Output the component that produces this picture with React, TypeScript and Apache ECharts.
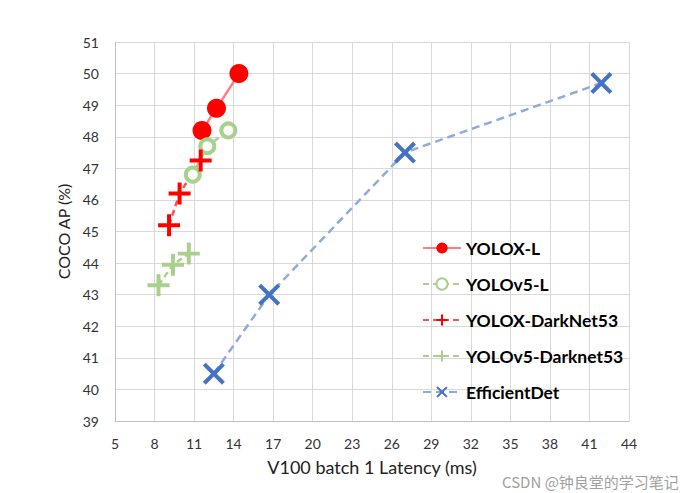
import React, { useEffect, useRef } from "react";
import * as echarts from "echarts";

const seriesNames = ["YOLOX-L", "YOLOv5-L", "YOLOX-DarkNet53", "YOLOv5-Darknet53", "EfficientDet"];
const yoloxL = [[11.6, 48.2], [12.7, 48.9], [14.4, 50.0]];
const yolov5L = [[10.9, 46.8], [12.0, 47.7], [13.6, 48.2]];
const yoloxDark = [[9.1, 45.2], [9.9, 46.2], [11.5, 47.25]];
const yolov5Dark = [[8.3, 43.3], [9.4, 43.95], [10.6, 44.3]];
const effDet = [[12.5, 40.5], [16.7, 43.0], [27.0, 47.5], [41.9, 49.7]];
const xRange = [5, 44, 3];
const yRange = [39, 51, 1];
const xTitle = "V100 batch 1 Latency (ms)";
const yTitle = "COCO AP (%)";
const watermark = "CSDN @钟良堂的学习笔记";

const PLUS = "path://M4.1,0 L5.9,0 L5.9,4.1 L10,4.1 L10,5.9 L5.9,5.9 L5.9,10 L4.1,10 L4.1,5.9 L0,5.9 L0,4.1 L4.1,4.1 Z";
const d = 1.3;
const CROSS = `path://M0,${d} L${d},0 L5,${5 - d} L${10 - d},0 L10,${d} L${5 + d},5 L10,${10 - d} L${10 - d},10 L5,${5 + d} L${d},10 L0,${10 - d} L${5 - d},5 Z`;

export default function App() {
  const ref = useRef<HTMLDivElement>(null);
  useEffect(() => {
    const chart = echarts.init(ref.current!, null, { renderer: "svg" });
    const font = "Lato, 'Open Sans', sans-serif";
    chart.setOption({
      animation: false,
      backgroundColor: "#ffffff",
      grid: { left: 115, right: 63, top: 42, bottom: 72 },
      xAxis: {
        type: "value",
        min: xRange[0], max: xRange[1], interval: xRange[2],
        name: xTitle, nameLocation: "middle", nameGap: 37,
        nameTextStyle: { fontFamily: font, fontSize: 18, color: "#222" },
        axisLine: { show: true, lineStyle: { color: "#bfbfbf", width: 1 } },
        axisTick: { show: false },
        axisLabel: { fontFamily: font, fontSize: 14, color: "#333", margin: 15 },
        splitLine: { show: true, lineStyle: { color: "#d9d9d9", width: 1 } },
      },
      yAxis: {
        type: "value",
        min: yRange[0], max: yRange[1], interval: yRange[2],
        name: yTitle, nameLocation: "middle", nameGap: 40, nameRotate: 90,
        nameTextStyle: { fontFamily: font, fontSize: 16, color: "#222" },
        axisLine: { show: true, lineStyle: { color: "#bfbfbf", width: 1 } },
        axisTick: { show: false },
        axisLabel: { fontFamily: font, fontSize: 14, color: "#333", margin: 16 },
        splitLine: { show: true, lineStyle: { color: "#d9d9d9", width: 1 } },
      },
      legend: {
        orient: "vertical",
        left: 417,
        top: 234,
        itemWidth: 38,
        itemHeight: 14,
        itemGap: 18,
        data: seriesNames,
        textStyle: { fontFamily: font, fontSize: 17.5, fontWeight: "bold", color: "#000", lineHeight: 18 },
      },
      series: [
        {
          name: seriesNames[0], type: "line", data: yoloxL,
          symbol: "circle", symbolSize: 19,
          itemStyle: { color: "#ff0000" },
          lineStyle: { color: "#ff7c80", width: 2.5, type: "solid" },
        },
        {
          name: seriesNames[1], type: "line", data: yolov5L,
          symbol: "circle", symbolSize: 14,
          itemStyle: { color: "#ffffff", borderColor: "#a9d18e", borderWidth: 4 },
          lineStyle: { color: "#a9d18e", width: 2.5, type: [6, 4] },
        },
        {
          name: seriesNames[2], type: "line", data: yoloxDark,
          symbol: PLUS, symbolSize: 22,
          itemStyle: { color: "#ff0000" },
          lineStyle: { color: "#ff5050", width: 2.5, type: [6, 4] },
        },
        {
          name: seriesNames[3], type: "line", data: yolov5Dark,
          symbol: PLUS, symbolSize: 22,
          itemStyle: { color: "#a9d18e" },
          lineStyle: { color: "#a9d18e", width: 2.5, type: [6, 4] },
        },
        {
          name: seriesNames[4], type: "line", data: effDet,
          symbol: CROSS, symbolSize: 22,
          itemStyle: { color: "#4472c4" },
          lineStyle: { color: "#8faadc", width: 2.5, type: [8, 5] },
        },
      ],
      graphic: [
        {
          type: "text", left: 502, top: 474,
          style: { text: watermark, fontFamily: "'Noto Sans CJK SC', sans-serif", fontSize: 15, fill: "#a0a0a0" },
        },
      ],
    });
    return () => chart.dispose();
  }, []);
  return <div ref={ref} style={{ position: "absolute", left: 0, top: 0, width: 692, height: 493 }} />;
}
